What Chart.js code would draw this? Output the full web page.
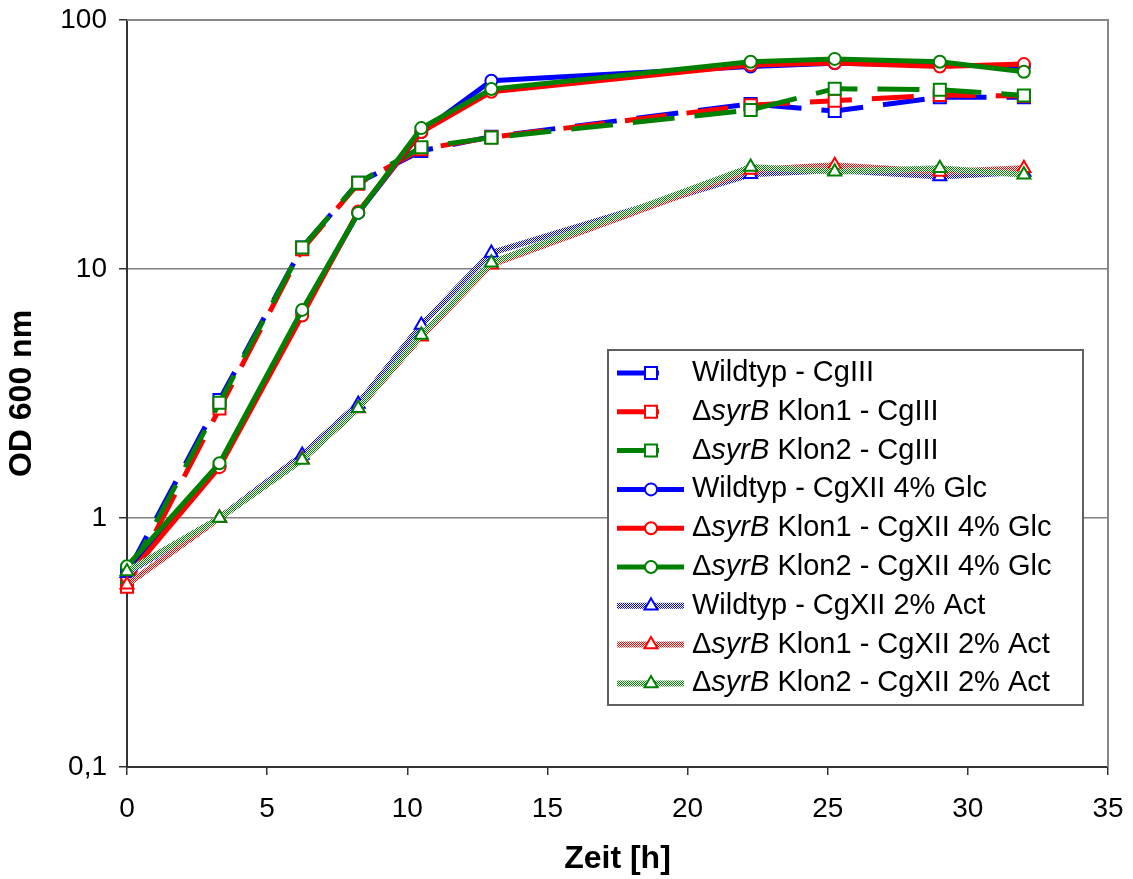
<!DOCTYPE html>
<html>
<head>
<meta charset="utf-8">
<script src="https://cdn.jsdelivr.net/npm/chart.js@4/dist/chart.umd.min.js"></script>
<style>
  html, body { margin: 0; padding: 0; background: #fff; }
  canvas { display: block; }
</style>
</head>
<body>
<canvas id="growthChart" width="1133" height="879"></canvas>
<script>
// Zeitpunkte der Messungen [h]
const times = [0, 3.3, 6.25, 8.25, 10.5, 13, 22.25, 25.25, 29, 32];

// OD600 - CgIII
const wtCgIII = [0.60, 2.98, 12.2, 22.2, 29.8, 34.0, 46.0, 43.1, 48.9, 49.0];
const k1CgIII = [0.53, 2.75, 12.0, 22.0, 30.3, 33.8, 45.5, 47.4, 50.0, 49.5];
const k2CgIII = [0.58, 2.90, 12.2, 22.2, 30.8, 33.7, 43.5, 53.0, 52.5, 49.8];

// OD600 - CgXII 4% Glc
const wtGlc = [0.60, 1.62, 6.7, 16.8, 35.5, 57.0, 65.0, 67.0, 66.0, 65.0];
const k1Glc = [0.58, 1.60, 6.5, 17.0, 35.5, 51.5, 66.0, 67.2, 65.0, 66.5];
const k2Glc = [0.64, 1.66, 6.85, 16.8, 36.8, 52.8, 68.0, 69.8, 68.0, 62.0];

// OD600 - CgXII 2% Act
const wtAct = [0.60, 1.0, 1.79, 2.87, 5.96, 11.6, 24.0, 25.0, 23.5, 24.5];
const k1Act = [0.54, 1.0, 1.72, 2.75, 5.35, 10.4, 25.0, 26.1, 24.5, 25.4];
const k2Act = [0.61, 1.0, 1.71, 2.76, 5.43, 10.6, 25.7, 24.6, 25.4, 23.9];

const seriesLabels = [
  'Wildtyp - CgIII', '\u0394syrB Klon1 - CgIII', '\u0394syrB Klon2 - CgIII',
  'Wildtyp - CgXII 4% Glc', '\u0394syrB Klon1 - CgXII 4% Glc', '\u0394syrB Klon2 - CgXII 4% Glc',
  'Wildtyp - CgXII 2% Act', '\u0394syrB Klon1 - CgXII 2% Act', '\u0394syrB Klon2 - CgXII 2% Act'
];
const seriesValues = [wtCgIII, k1CgIII, k2CgIII, wtGlc, k1Glc, k2Glc, wtAct, k1Act, k2Act];

// Achsen
const yTickValues = [0.1, 1, 10, 100];
const yTickLabels = ['0,1', '1', '10', '100'];

const FONT = '"Liberation Sans", Arial, sans-serif';
const colors = ['#0000ff', '#ff0000', '#008000'];

// gepunktetes Muster fuer die Acetat-Linien
function makePattern(color) {
  const c = document.createElement('canvas');
  c.width = 2; c.height = 2;
  const g = c.getContext('2d');
  g.fillStyle = '#ffffff';
  g.fillRect(0, 0, 2, 2);
  g.fillStyle = color;
  g.fillRect(0, 0, 1, 1);
  g.fillRect(1, 1, 1, 1);
  return g.createPattern(c, 'repeat');
}

const datasets = seriesValues.map((vals, i) => {
  const group = Math.floor(i / 3);
  const color = colors[i % 3];
  const ds = {
    label: seriesLabels[i],
    data: times.map((t, j) => ({ x: t, y: vals[j] })),
    borderColor: color,
    borderWidth: 5,
    pointBorderColor: color,
    pointBackgroundColor: '#ffffff',
    pointBorderWidth: 2,
    tension: 0,
    clip: false,
    order: 20 - i
  };
  if (group === 0) {
    ds.borderDash = [42, 20];
    ds.pointStyle = 'rect';
    ds.pointRadius = 8.5;
  } else if (group === 1) {
    ds.pointStyle = 'circle';
    ds.pointRadius = 6;
  } else {
    ds.borderColor = makePattern(color);
    ds.borderWidth = 6;
    ds.pointStyle = 'triangle';
    ds.pointRadius = 7.5;
  }
  return ds;
});

// grauer Rahmen oben/rechts
const plotFrame = {
  id: 'plotFrame',
  beforeDatasetsDraw(chart) {
    const { ctx, chartArea: a } = chart;
    ctx.save();
    ctx.strokeStyle = '#888888';
    ctx.lineWidth = 2;
    ctx.beginPath();
    ctx.moveTo(a.left, a.top);
    ctx.lineTo(a.right, a.top);
    ctx.lineTo(a.right, a.bottom);
    ctx.stroke();
    ctx.restore();
  }
};

function drawMarker(ctx, style, x, y) {
  ctx.beginPath();
  if (style === 'rect') {
    ctx.rect(x - 6, y - 6, 12, 12);
  } else if (style === 'circle') {
    ctx.arc(x, y, 6, 0, Math.PI * 2);
  } else {
    ctx.moveTo(x, y - 7.5);
    ctx.lineTo(x + 6.5, y + 3.75);
    ctx.lineTo(x - 6.5, y + 3.75);
    ctx.closePath();
  }
  ctx.fill();
  ctx.stroke();
}

// Legende mit kursivem Genname
const customLegend = {
  id: 'customLegend',
  afterDraw(chart) {
    const ctx = chart.ctx;
    const box = { x: 608, y: 350, w: 475, h: 355 };
    ctx.save();
    ctx.fillStyle = '#ffffff';
    ctx.fillRect(box.x, box.y, box.w, box.h);
    ctx.strokeStyle = '#606060';
    ctx.lineWidth = 2;
    ctx.strokeRect(box.x, box.y, box.w, box.h);

    chart.data.datasets.forEach((ds, i) => {
      const cy = 373 + i * 38.8;
      ctx.save();
      ctx.strokeStyle = ds.borderColor;
      ctx.lineWidth = ds.borderWidth;
      ctx.setLineDash(ds.borderDash || []);
      ctx.beginPath();
      ctx.moveTo(617, cy);
      ctx.lineTo(ds.borderDash ? 660 : 684, cy);
      ctx.stroke();
      ctx.restore();

      ctx.fillStyle = '#ffffff';
      ctx.strokeStyle = ds.pointBorderColor;
      ctx.lineWidth = 2;
      drawMarker(ctx, ds.pointStyle, 651, cy);

      ctx.fillStyle = '#000000';
      ctx.textBaseline = 'middle';
      ctx.textAlign = 'left';
      let x = 692;
      let label = ds.label;
      if (label.startsWith('\u0394syrB')) {
        ctx.font = '29px ' + FONT;
        ctx.fillText('\u0394', x, cy);
        x += ctx.measureText('\u0394').width;
        ctx.font = 'italic 29px ' + FONT;
        ctx.fillText('syrB', x, cy);
        x += ctx.measureText('syrB').width;
        label = label.slice(5);
      }
      ctx.font = '29px ' + FONT;
      ctx.fillText(label, x, cy);
    });
    ctx.restore();
  }
};

new Chart(document.getElementById('growthChart'), {
  type: 'line',
  data: { datasets },
  plugins: [plotFrame, customLegend],
  options: {
    responsive: false,
    animation: false,
    layout: { padding: { top: 20, right: 25, left: 0, bottom: 0 } },
    plugins: {
      legend: { display: false },
      tooltip: { enabled: false }
    },
    scales: {
      x: {
        type: 'linear',
        min: 0,
        max: 35,
        ticks: {
          stepSize: 5,
          color: '#000',
          padding: 17,
          font: { family: FONT, size: 28 }
        },
        grid: {
          drawOnChartArea: false,
          drawTicks: true,
          tickLength: 8,
          tickColor: '#333333',
          lineWidth: 1.5
        },
        border: { display: true, color: '#333333', width: 2 },
        title: {
          display: true,
          text: 'Zeit [h]',
          color: '#000',
          font: { family: FONT, size: 32, weight: 'bold' },
          padding: { top: 0, bottom: 1 }
        },
        afterFit(scale) {
          scale.height = 112;
          scale.paddingLeft = 0;
          scale.paddingRight = 0;
        }
      },
      y: {
        type: 'logarithmic',
        min: 0.1,
        max: 100,
        afterBuildTicks(scale) {
          scale.ticks = yTickValues.map(v => ({ value: v }));
        },
        ticks: {
          color: '#000',
          padding: 12,
          font: { family: FONT, size: 28 },
          callback(value) {
            const idx = yTickValues.indexOf(value);
            return idx >= 0 ? yTickLabels[idx] : '';
          }
        },
        grid: {
          color: '#808080',
          lineWidth: 1.5,
          drawTicks: true,
          tickLength: 8,
          tickColor: '#333333'
        },
        border: { display: true, color: '#333333', width: 2 },
        title: {
          display: true,
          text: 'OD 600 nm',
          color: '#000',
          font: { family: FONT, size: 32, weight: 'bold' },
          padding: { top: 3, bottom: 0 }
        },
        afterFit(scale) {
          scale.width = 127;
          scale.paddingTop = 0;
          scale.paddingBottom = 0;
        }
      }
    }
  }
});
</script>
</body>
</html>
